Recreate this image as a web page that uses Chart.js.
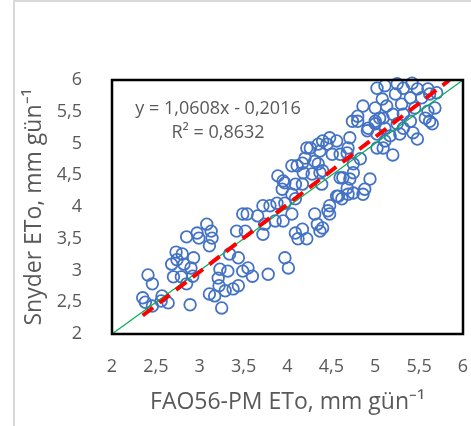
<!DOCTYPE html>
<html>
<head>
<meta charset="utf-8">
<script src="https://cdn.jsdelivr.net/npm/chart.js@4.4.1/dist/chart.umd.min.js"></script>
<style>
  body { margin: 0; background: #fff; }
  #wrap { position: relative; width: 471px; height: 426px; overflow: hidden; }
  #frame { position: absolute; left: 13px; top: 0; width: 470px; height: 440px;
           border-left: 2px solid #d9d9d9; border-top: 2px solid #d9d9d9; box-sizing: border-box; }
  canvas { position: absolute; left: 0; top: 0; }
</style>
</head>
<body>
<div id="wrap">
  <div id="frame"></div>
  <canvas id="etoChart" width="471" height="426"></canvas>
</div>
<script>
// FAO56-PM ETo (x) and Snyder ETo (y), mm/day
const fao56 = [
  2.41, 2.46, 2.35, 2.38, 2.46, 2.57, 2.56, 2.64, 2.89, 3.25,
  2.68, 2.73, 2.80, 2.74, 2.82, 2.90, 2.93, 2.70, 2.79, 2.92,
  2.85, 2.97, 2.99, 3.08, 3.13, 3.14, 3.11, 3.22, 3.11, 3.17,
  2.85, 3.23, 3.21, 3.32, 3.29, 3.34, 3.38, 3.44, 3.49, 3.52,
  3.44, 3.55, 3.78, 3.97, 4.01, 3.54, 3.66, 3.72, 3.74, 3.80,
  3.88, 3.86, 3.95, 4.05, 4.09, 4.17, 4.12, 4.22, 4.31, 4.37,
  3.89, 3.97, 4.05, 4.09, 4.18, 4.20, 4.28, 4.35, 4.40, 4.39,
  4.05, 4.17, 3.42, 3.72, 3.49, 3.60, 4.46, 4.58, 4.69, 4.17,
  4.22, 4.35, 4.45, 4.56, 4.69, 4.71, 4.75, 4.63, 4.09, 3.97,
  4.60, 4.31, 4.37, 4.51, 4.68, 4.80, 4.91, 5.00, 5.05, 5.11,
  5.09, 5.02, 4.83, 4.75, 4.71, 4.94, 4.88, 4.75, 4.62, 4.56,
  4.48, 4.48, 4.34, 4.40, 5.02, 5.11, 5.08, 5.00, 5.13, 5.23,
  5.32, 5.42, 5.48, 5.53, 5.60, 5.40, 5.30, 5.45, 5.32, 5.20,
  5.09, 5.00, 5.11, 5.25, 5.40, 5.57, 5.62, 5.60, 5.68, 5.65,
  5.02, 5.17, 5.28, 5.32, 5.43, 5.48, 5.20, 5.62, 4.86, 4.80,
  4.92, 4.74, 5.70, 5.25, 4.40, 4.48, 4.26, 4.37, 4.11, 3.95,
  3.94, 4.60, 4.86, 4.68
];
const snyder = [
  2.93, 2.79, 2.57, 2.50, 2.44, 2.60, 2.52, 2.49, 2.46, 2.41,
  3.10, 3.29, 3.26, 3.17, 3.10, 3.04, 3.20, 2.90, 2.90, 2.91,
  3.53, 3.59, 3.51, 3.73, 3.62, 3.51, 3.39, 2.76, 2.63, 2.60,
  2.79, 3.02, 2.88, 2.99, 2.68, 3.26, 2.71, 2.76, 3.89, 3.62,
  3.20, 3.04, 2.94, 3.20, 3.04, 3.89, 3.86, 4.02, 3.73, 4.02,
  4.06, 3.78, 3.78, 3.89, 3.59, 3.65, 3.50, 3.50, 3.89, 3.62,
  4.49, 4.38, 4.65, 4.36, 4.54, 4.77, 4.52, 4.68, 4.57, 4.36,
  4.20, 4.36, 3.62, 3.57, 2.99, 2.91, 3.94, 4.17, 4.20, 4.69,
  4.93, 4.99, 4.99, 5.04, 4.93, 5.09, 4.54, 4.46, 4.13, 4.06,
  4.83, 4.72, 4.54, 4.83, 4.85, 5.35, 5.20, 5.31, 5.40, 5.04,
  4.93, 4.93, 4.76, 4.68, 4.44, 4.44, 4.28, 4.22, 4.13, 4.17,
  4.02, 3.89, 3.73, 3.67, 5.87, 5.91, 5.70, 5.56, 5.59, 5.78,
  5.87, 5.95, 5.86, 5.72, 5.86, 5.72, 5.62, 5.56, 5.46, 5.46,
  5.40, 5.35, 5.24, 5.31, 5.35, 5.40, 5.35, 5.51, 5.56, 5.31,
  5.15, 5.12, 5.15, 5.24, 5.17, 5.07, 4.82, 5.78, 5.59, 5.43,
  5.24, 5.35, 5.80, 5.94, 5.04, 5.09, 4.93, 4.88, 4.65, 4.41,
  4.28, 4.46, 4.20, 4.30
];

// linear trendline shown on the chart, and the 1:1 line
const trendSlope = 1.0608;
const trendIntercept = -0.2016;
const trendX = [2.35, 5.846];
const oneToOneX = [2, 6];

const tickValues = [2, 2.5, 3, 3.5, 4, 4.5, 5, 5.5, 6];
const tickLabels = ["2", "2,5", "3", "3,5", "4", "4,5", "5", "5,5", "6"];

const eqLines = ["y = 1,0608x - 0,2016", "R² = 0,8632"];

const textColor = "#595959";
const tickFont = { family: "'Open Sans'", size: 18 };
const titleFont = { family: "'Open Sans'", size: 23 };

const points = fao56.map((x, i) => ({ x: x, y: snyder[i] }));
const trendPoints = trendX.map((x) => ({ x: x, y: trendSlope * x + trendIntercept }));
const oneToOne = oneToOneX.map((v) => ({ x: v, y: v }));

function setTicks(scale) {
  scale.ticks = tickValues.map((v) => ({ value: v }));
}

// black box round the plot area + equation text
const plotExtras = {
  id: "plotExtras",
  afterDatasetsDraw(chart) {
    const { ctx, chartArea } = chart;
    ctx.save();
    ctx.fillStyle = textColor;
    ctx.font = "18px 'Open Sans'";
    ctx.textAlign = "center";
    ctx.textBaseline = "middle";
    const cx = chartArea.left + 106;
    ctx.fillText(eqLines[0], cx, chartArea.top + 29);
    ctx.fillText(eqLines[1], cx, chartArea.top + 53);
    ctx.strokeStyle = "#000";
    ctx.lineWidth = 2.5;
    ctx.strokeRect(chartArea.left, chartArea.top,
      chartArea.right - chartArea.left, chartArea.bottom - chartArea.top);
    ctx.restore();
  },
};

const ctx = document.getElementById("etoChart").getContext("2d");
new Chart(ctx, {
  type: "scatter",
  data: {
    datasets: [
      {
        label: "Trend",
        type: "line",
        data: trendPoints,
        borderColor: "#ff0000",
        borderWidth: 4,
        borderDash: [13, 8],
        pointRadius: 0,
        fill: false,
      },
      {
        label: "1:1",
        type: "line",
        data: oneToOne,
        borderColor: "#00b050",
        borderWidth: 1.2,
        pointRadius: 0,
        fill: false,
      },
      {
        label: "ETo",
        data: points,
        pointRadius: 5.8,
        pointBorderWidth: 1.8,
        pointBorderColor: "#4472c4",
        pointBackgroundColor: "rgba(0,0,0,0)",
        clip: false,
      },
    ],
  },
  options: {
    responsive: false,
    animation: false,
    layout: { padding: { top: 80, right: 8, left: 0, bottom: 0 } },
    plugins: { legend: { display: false }, tooltip: { enabled: false } },
    scales: {
      x: {
        type: "linear",
        min: 2,
        max: 6,
        afterBuildTicks: setTicks,
        afterFit: (scale) => {
          scale.height = 92;
          scale.paddingLeft = 0;
          scale.paddingRight = 0;
        },
        grid: { display: false },
        border: { display: false },
        ticks: {
          color: textColor,
          font: tickFont,
          padding: 14,
          maxRotation: 0,
          callback: (v, i) => tickLabels[i],
        },
        title: {
          display: true,
          text: "FAO56-PM ETo, mm gün⁻¹",
          color: textColor,
          font: titleFont,
          padding: { top: 0, bottom: 10 },
        },
      },
      y: {
        type: "linear",
        min: 2,
        max: 6,
        afterBuildTicks: setTicks,
        afterFit: (scale) => {
          scale.width = 112;
          scale.paddingTop = 0;
          scale.paddingBottom = 0;
        },
        grid: { display: false },
        border: { display: false },
        ticks: {
          color: textColor,
          font: tickFont,
          padding: 22,
          callback: (v, i) => tickLabels[i],
        },
        title: {
          display: true,
          text: "Snyder ETo, mm gün⁻¹",
          color: textColor,
          font: titleFont,
          padding: { top: 21, bottom: 0 },
        },
      },
    },
  },
  plugins: [plotExtras],
});
</script>
</body>
</html>
